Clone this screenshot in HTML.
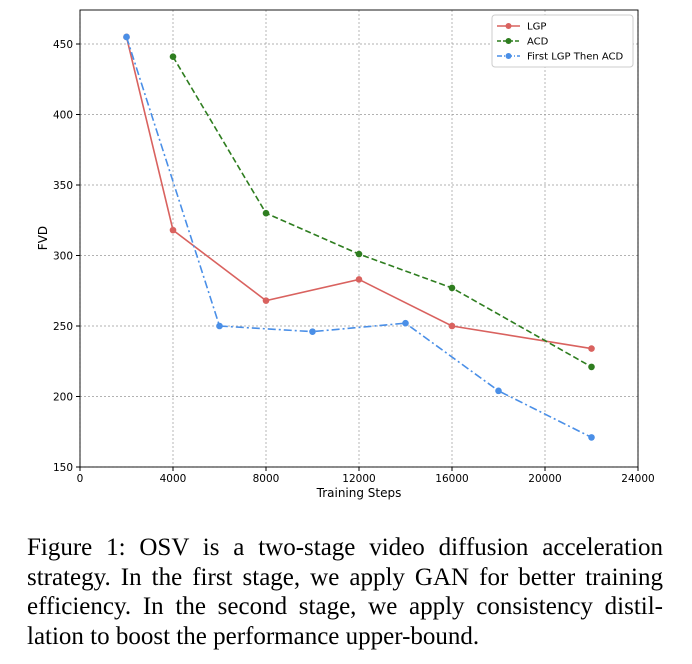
<!DOCTYPE html>
<html><head><meta charset="utf-8"><style>
body{margin:0;background:#fff;width:692px;height:664px;overflow:hidden}
svg text{font-family:"DejaVu Sans","Liberation Sans",sans-serif}
.cap{position:absolute;left:27px;top:533px;width:636px;font-family:"Liberation Serif",serif;font-size:25px;line-height:29.5px;color:#000}
.cap div{text-align:justify;text-align-last:justify;white-space:nowrap}
.cap div.last{text-align-last:left}
</style></head><body>
<svg id="chart" width="692" height="520" style="position:absolute;left:0;top:0"></svg>
<div class="cap">
<div>Figure 1: OSV is a two-stage video diffusion acceleration</div>
<div>strategy. In the first stage, we apply GAN for better training</div>
<div>efficiency. In the second stage, we apply consistency distil-</div>
<div class="last">lation to boost the performance upper-bound.</div>
</div>
<script>
const xTicks=[0,4000,8000,12000,16000,20000,24000];
const yTicks=[150,200,250,300,350,400,450];
const lgpX=[2000,4000,8000,12000,16000,22000];
const lgpY=[455,318,268,283,250,234];
const acdX=[4000,8000,12000,16000,22000];
const acdY=[441,330,301,277,221];
const bothX=[2000,6000,10000,14000,18000,22000];
const bothY=[455,250,246,252,204,171];
const NS='http://www.w3.org/2000/svg';
const svg=document.getElementById('chart');
const L=80,R=638,T=10,B=467;
const sx=v=>L+(v/24000)*(R-L);
const sy=v=>B-(v-150)*(141/100);
function mk(tag,attrs,parent){const e=document.createElementNS(NS,tag);for(const k in attrs)e.setAttribute(k,attrs[k]);(parent||svg).appendChild(e);return e;}
xTicks.forEach(t=>{
 const g=mk('line',{x1:sx(t),x2:sx(t),y1:T,y2:B,stroke:'#999','stroke-width':0.7,'stroke-dasharray':'2,2'});
 
 mk('line',{x1:sx(t),x2:sx(t),y1:B,y2:B+4,stroke:'#000'});
 const tx=mk('text',{x:sx(t),y:B+15,'text-anchor':'middle','font-size':10.5});tx.textContent=t;
 
});
yTicks.forEach(t=>{
 const g=mk('line',{x1:L,x2:R,y1:sy(t),y2:sy(t),stroke:'#999','stroke-width':0.7,'stroke-dasharray':'2,2'});
 
 mk('line',{x1:L-4,x2:L,y1:sy(t),y2:sy(t),stroke:'#000'});
 const tx=mk('text',{x:L-7,y:sy(t)+4,'text-anchor':'end','font-size':10.5});tx.textContent=t;
 
});
const fr=mk('rect',{x:L,y:T,width:R-L,height:B-T,fill:'none',stroke:'#000','stroke-width':0.9});

const xl=mk('text',{x:(L+R)/2,y:497,'text-anchor':'middle','font-size':12});xl.textContent='Training Steps';

const yl=mk('text',{x:47,y:238,'text-anchor':'middle','font-size':12,transform:'rotate(-90 47 238)'});yl.textContent='FVD';

function series(xs,ys,color,dash,name){
 const p=mk('polyline',{points:xs.map((x,i)=>sx(x)+','+sy(ys[i])).join(' '),fill:'none',stroke:color,'stroke-width':1.6,'stroke-dasharray':dash});
 
 xs.forEach((x,i)=>{const c=mk('circle',{cx:sx(x),cy:sy(ys[i]),r:3.3,fill:color});
 });
}
series(lgpX,lgpY,'#d9625f','none','lgp');
series(acdX,acdY,'#2e7d1f','6,3','acd');
series(bothX,bothY,'#4a8fe7','8,3,2,3','first-lgp-then-acd');
const lg=mk('g',{});
mk('rect',{x:492,y:15,width:141,height:52,rx:3,fill:'#fff',stroke:'#ccc'},lg);
[['LGP','#d9625f','none'],['ACD','#2e7d1f','4,2'],['First LGP Then ACD','#4a8fe7','5,2,1,2']].forEach((d,i)=>{
 const y=26+i*15;
 mk('line',{x1:497,x2:520,y1:y,y2:y,stroke:d[1],'stroke-width':1.6,'stroke-dasharray':d[2]},lg);
 mk('circle',{cx:508.5,cy:y,r:3,fill:d[1]},lg);
 const t=mk('text',{x:527,y:y+3.5,'font-size':10},lg);t.textContent=d[0];
 
});
</script>
</body></html>
